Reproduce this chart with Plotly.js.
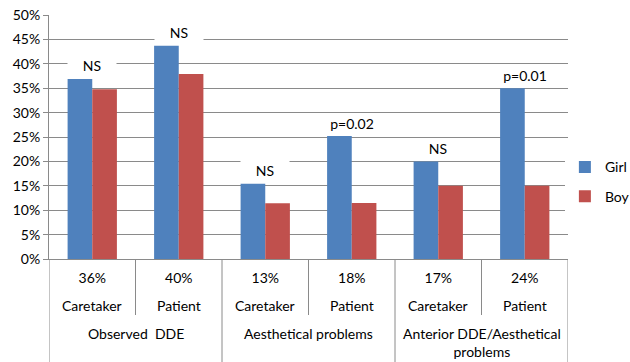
<!DOCTYPE html>
<html>
<head>
<meta charset="utf-8">
<script src="https://cdn.plot.ly/plotly-3.0.1.min.js"></script>
<style>
  html, body { margin: 0; padding: 0; background: #fff; }
  #chart { width: 630px; height: 362px; }
</style>
</head>
<body>
<div id="chart"></div>
<script>
// Share of children with each finding, by sex of the child
const roles  = ['Caretaker', 'Patient', 'Caretaker', 'Patient', 'Caretaker', 'Patient'];
const groups = ['Observed&nbsp; DDE', 'Aesthetical problems', 'Anterior DDE/Aesthetical<br>problems'];
const totals = ['36%', '40%', '13%', '18%', '17%', '24%'];
const girl   = [0.369, 0.437, 0.154, 0.252, 0.200, 0.350];
const boy    = [0.348, 0.379, 0.114, 0.115, 0.150, 0.150];
const signif = ['NS', 'NS', 'NS', 'p=0.02', 'NS', 'p=0.01'];

const FONT = 'Lato, "Open Sans", sans-serif';
const GRID = '#8a8a8a';
const idx = roles.map((_, i) => i);

const traces = [
  { type: 'bar', name: 'Girl', x: idx, y: girl, marker: { color: '#4F81BD' }, legendgroup: 'g' },
  { type: 'bar', name: 'Boy',  x: idx, y: boy,  marker: { color: '#C0504D' }, legendgroup: 'b' }
];

const annotations = [];
// significance labels above each pair
idx.forEach(i => {
  annotations.push({
    x: i, y: girl[i], xref: 'x', yref: 'y', yanchor: 'middle', yshift: 13,
    text: signif[i], showarrow: false, bgcolor: '#fff',
    width: signif[i] === 'NS' ? 46 : 72,
    font: { family: FONT, size: 14, color: '#000' }
  });
  // respondent row
  annotations.push({
    x: i, y: 0, xref: 'x', yref: 'paper', yanchor: 'middle', yshift: -46,
    text: roles[i], showarrow: false,
    font: { family: FONT, size: 14, color: '#000' }
  });
});
// group headings, centred under each pair
groups.forEach((g, k) => {
  annotations.push({
    x: 2 * k + 0.5, y: 0, xref: 'x', yref: 'paper', yanchor: 'top', yshift: -64,
    text: g, showarrow: false,
    font: { family: FONT, size: 14, color: '#000' }
  });
});

// table rules below the axis: short between roles, long between groups
const shapes = [];
for (let b = 0; b <= idx.length; b++) {
  const long = b % 2 === 0;
  shapes.push({
    type: 'line', xref: 'x', yref: 'paper', ysizemode: 'pixel', yanchor: 0,
    x0: b - 0.5, x1: b - 0.5, y0: 0, y1: long ? -104 : -56,
    line: { color: GRID, width: 1 }
  });
}

const layout = {
  width: 630, height: 362,
  margin: { l: 49, r: 62, t: 15, b: 103, autoexpand: false },
  paper_bgcolor: '#fff', plot_bgcolor: '#fff',
  font: { family: FONT, size: 14, color: '#000' },
  barmode: 'group', bargap: 0.43, bargroupgap: 0,
  xaxis: {
    range: [-0.5, idx.length - 0.5], tickvals: idx, ticktext: totals,
    showgrid: false, zeroline: false, showline: true, linecolor: GRID,
    ticks: '', ticklabelstandoff: 6,
    tickfont: { family: FONT, size: 14, color: '#000' }
  },
  yaxis: {
    range: [0, 0.5], dtick: 0.05, tickformat: '.0%',
    showgrid: true, gridcolor: GRID, zeroline: false,
    showline: true, linecolor: GRID, ticks: 'outside', ticklen: 5, tickcolor: GRID,
    tickfont: { family: FONT, size: 14, color: '#000' }
  },
  legend: {
    x: 0.994, xanchor: 'left', y: 0.316, yanchor: 'middle',
    traceorder: 'grouped', tracegroupgap: 8,
    font: { family: FONT, size: 14, color: '#000' }
  },
  annotations: annotations,
  shapes: shapes
};

Plotly.newPlot('chart', traces, layout, { displayModeBar: false, staticPlot: true });
</script>
</body>
</html>
